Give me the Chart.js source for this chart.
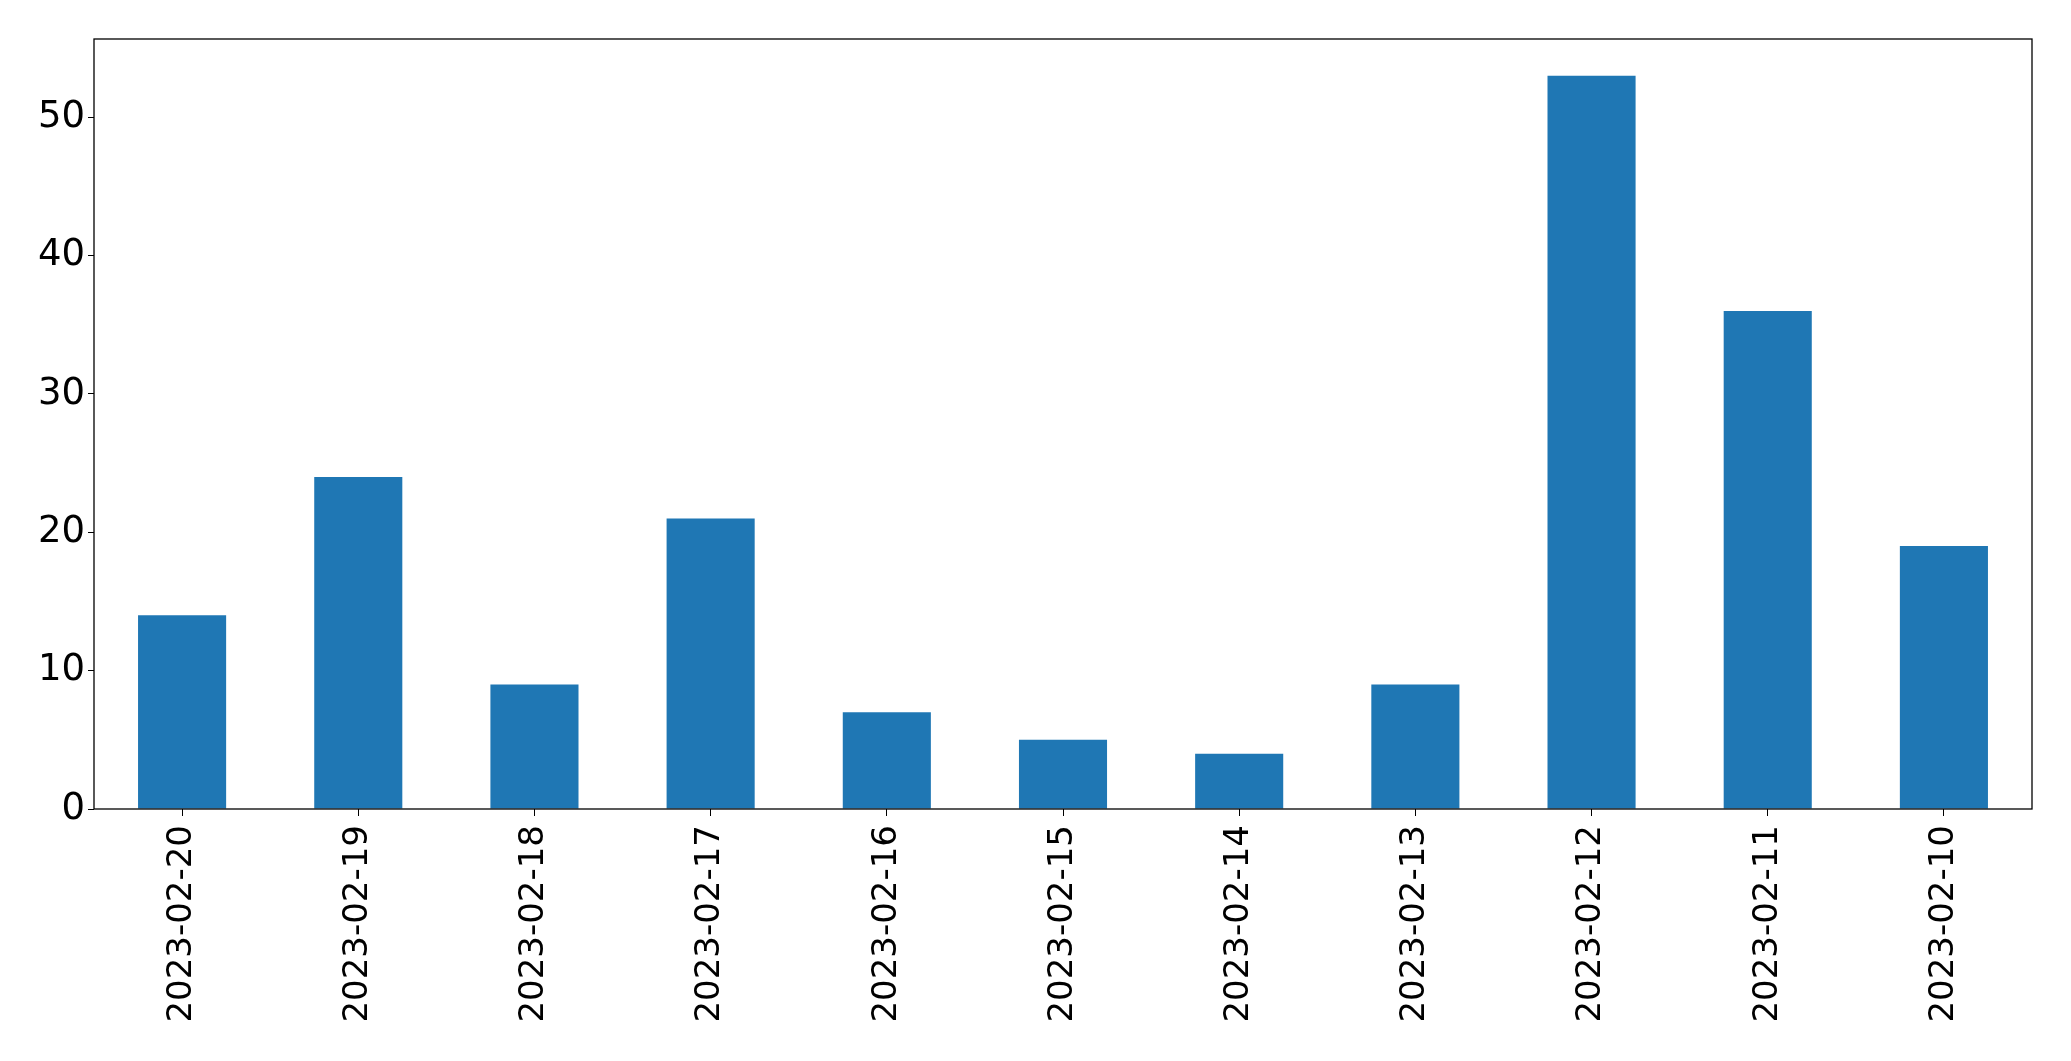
<!DOCTYPE html>
<html>
<head>
<meta charset="utf-8">
<script src="https://cdn.jsdelivr.net/npm/chart.js@4/dist/chart.umd.min.js"></script>
<style>
  html, body { margin: 0; padding: 0; background: #fff; }
  #wrap { width: 2071px; height: 1061px; }
</style>
</head>
<body>
<div id="wrap"><canvas id="c" width="2071" height="1061"></canvas></div>
<script>
const dates = [
  "2023-02-20", "2023-02-19", "2023-02-18", "2023-02-17", "2023-02-16", "2023-02-15",
  "2023-02-14", "2023-02-13", "2023-02-12", "2023-02-11", "2023-02-10",
];
const counts = [14, 24, 9, 21, 7, 5, 4, 9, 53, 36, 19];
const yTicks = [0, 10, 20, 30, 40, 50];

// full box around the plot, like matplotlib's spines
const frame = {
  id: "frame",
  afterDraw(chart) {
    const { ctx, chartArea: a } = chart;
    ctx.save();
    ctx.strokeStyle = "#000";
    ctx.lineWidth = 1.3;
    ctx.strokeRect(a.left, a.top, a.right - a.left, a.bottom - a.top);
    ctx.restore();
  },
};

new Chart(document.getElementById("c"), {
  type: "bar",
  data: {
    labels: dates,
    datasets: [
      {
        data: counts,
        backgroundColor: "#1f77b4",
        barPercentage: 0.5,
        categoryPercentage: 1,
      },
    ],
  },
  options: {
    responsive: false,
    animation: false,
    layout: { padding: { top: 39, right: 39, left: 0, bottom: 0 } },
    plugins: { legend: { display: false }, tooltip: { enabled: false } },
    scales: {
      x: {
        offset: true,
        grid: { display: true, offset: false, drawOnChartArea: false, tickLength: 7, color: "#000" },
        border: { display: false },
        ticks: {
          color: "#000",
          font: { family: "DejaVu Sans", size: 34 },
          minRotation: 90,
          maxRotation: 90,
          padding: 9,
          autoSkip: false,
        },
        afterFit: (s) => { s.height = 252; },
      },
      y: {
        min: 0,
        max: 55.65,
        grid: { display: true, drawOnChartArea: false, tickLength: 6, color: "#000" },
        border: { display: false },
        ticks: {
          color: "#000",
          font: { family: "DejaVu Sans", size: 37 },
          stepSize: 10,
          padding: 3,
        },
        afterBuildTicks: (s) => { s.ticks = yTicks.map((v) => ({ value: v })); },
        afterFit: (s) => { s.width = 94; },
      },
    },
  },
  plugins: [frame],
});
</script>
</body>
</html>
